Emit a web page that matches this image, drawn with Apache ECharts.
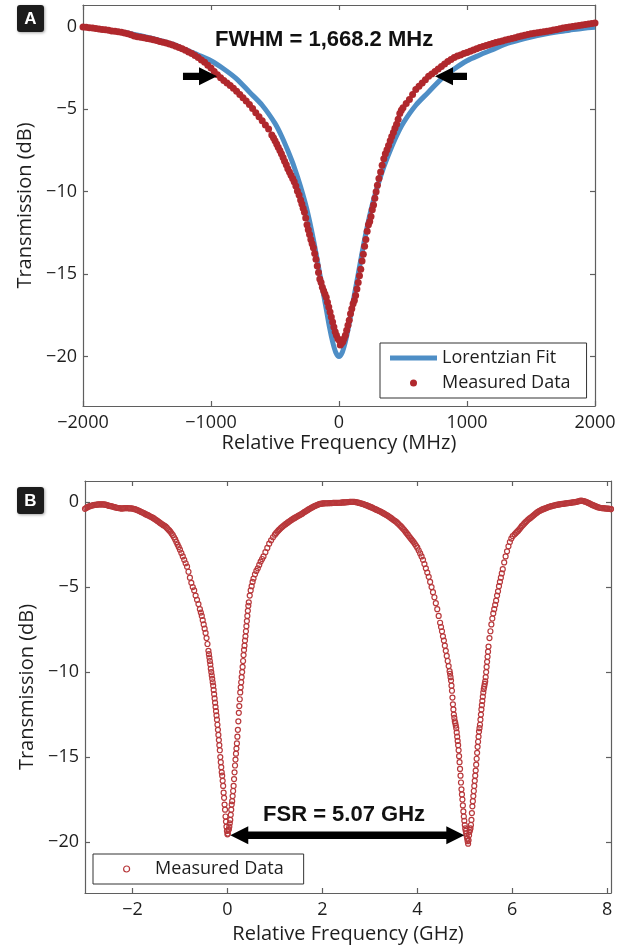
<!DOCTYPE html>
<html><head><meta charset="utf-8">
<script src="https://cdn.jsdelivr.net/npm/echarts@6/dist/echarts.min.js"></script>
<style>html,body{margin:0;padding:0;background:#fff}#c{width:623px;height:948px}</style>
</head><body><div id="c"></div>
<script>
// ---------- Panel A data ----------
const fitA = [[-2000,0],[-1900,-0.09],[-1800,-0.2],[-1700,-0.31],[-1600,-0.45],[-1500,-0.62],[-1400,-0.82],[-1300,-1.05],[-1200,-1.38],[-1100,-1.7],[-1000,-2.05],[-900,-2.55],[-800,-3.15],[-700,-3.95],[-600,-4.75],[-500,-5.85],[-450,-6.6],[-400,-7.5],[-350,-8.5],[-300,-9.7],[-250,-11.1],[-200,-12.9],[-150,-15.0],[-100,-17.1],[-75,-18.2],[-50,-19.1],[-25,-19.75],[0,-20.0],[25,-19.75],[50,-19.1],[75,-18.2],[100,-17.1],[150,-15.0],[200,-12.9],[250,-11.1],[300,-9.7],[350,-8.5],[400,-7.5],[450,-6.6],[500,-5.85],[600,-4.75],[700,-3.95],[800,-3.15],[900,-2.55],[1000,-2.05],[1100,-1.7],[1200,-1.38],[1300,-1.05],[1400,-0.82],[1500,-0.62],[1600,-0.45],[1700,-0.31],[1800,-0.2],[1900,-0.09],[2000,-0.02]];

const measA = [[-2000,0.00],[-1975,-0.02],[-1950,-0.05],[-1925,-0.07],[-1900,-0.10],[-1875,-0.12],[-1850,-0.15],[-1825,-0.17],[-1800,-0.20],[-1775,-0.24],[-1750,-0.27],[-1725,-0.30],[-1700,-0.33],[-1675,-0.37],[-1650,-0.42],[-1625,-0.48],[-1600,-0.55],[-1575,-0.59],[-1550,-0.63],[-1525,-0.66],[-1500,-0.70],[-1475,-0.74],[-1450,-0.78],[-1425,-0.83],[-1400,-0.88],[-1375,-0.93],[-1350,-0.98],[-1325,-1.04],[-1300,-1.10],[-1275,-1.17],[-1250,-1.25],[-1225,-1.33],[-1200,-1.42],[-1175,-1.52],[-1150,-1.62],[-1125,-1.73],[-1100,-1.85],[-1075,-2.00],[-1050,-2.15],[-1025,-2.32],[-1000,-2.50],[-975,-2.70],[-950,-2.90],[-925,-3.08],[-900,-3.25],[-875,-3.40],[-850,-3.55],[-825,-3.72],[-800,-3.90],[-775,-4.10],[-750,-4.30],[-725,-4.50],[-700,-4.70],[-675,-4.95],[-650,-5.20],[-625,-5.45],[-600,-5.70],[-575,-5.95],[-550,-6.20],[-525,-6.55],[-512,-6.72],[-500,-6.90],[-487,-7.10],[-475,-7.30],[-462,-7.50],[-450,-7.70],[-437,-7.92],[-425,-8.15],[-412,-8.37],[-400,-8.60],[-387,-8.80],[-375,-9.00],[-362,-9.20],[-350,-9.40],[-337,-9.65],[-325,-9.95],[-312,-10.20],[-300,-10.50],
[-290,-10.75],[-280,-11.0],[-270,-11.25],[-260,-11.6],[-250,-12.0],[-240,-12.3],[-230,-12.6],[-220,-12.9],[-210,-13.15],[-200,-13.4],[-190,-13.75],[-180,-14.1],[-170,-14.5],[-160,-14.9],[-150,-15.3],[-140,-15.5],[-130,-15.8],[-120,-16.0],[-110,-16.2],[-100,-16.4],[-90,-16.7],[-80,-17.0],[-70,-17.3],[-60,-17.6],[-50,-17.9],[-40,-18.2],[-30,-18.5],[-20,-18.7],[-10,-18.9],[0,-19.0],[10,-19.3],[20,-19.2],[30,-19.1],[40,-18.9],[50,-18.7],[60,-18.4],[70,-18.1],[80,-17.8],[90,-17.4],[100,-17.1],[110,-16.8],[120,-16.6],[130,-16.3],[140,-15.9],[150,-15.5],[160,-15.1],[170,-14.7],[180,-14.2],[190,-13.8],[200,-13.3],[210,-12.9],[220,-12.4],[230,-12.0],[240,-11.8],[250,-11.5],[260,-11.1],[270,-10.8],[280,-10.4],[290,-10.0],
[300,-9.6],[312,-9.2],[325,-8.8],[337,-8.4],[350,-8.0],[362,-7.7],[375,-7.45],[387,-7.2],[400,-6.9],[412,-6.65],[425,-6.4],[437,-6.15],[450,-5.9],[462,-5.6],[475,-5.25],[487,-5.05],[500,-4.9],[525,-4.65],[550,-4.4],[575,-4.1],[600,-3.8],[625,-3.6],[650,-3.4],[675,-3.2],[700,-3.0],[725,-2.85],[750,-2.7],[775,-2.55],[800,-2.4],[825,-2.25],[850,-2.1],[875,-1.97],[900,-1.85],[925,-1.77],[950,-1.7],[975,-1.62],[1000,-1.55],[1025,-1.48],[1050,-1.4],[1075,-1.33],[1100,-1.25],[1125,-1.19],[1150,-1.13],[1175,-1.06],[1200,-1.0],[1225,-0.95],[1250,-0.9],[1275,-0.85],[1300,-0.8],[1325,-0.75],[1350,-0.7],[1375,-0.65],[1400,-0.6],[1425,-0.55],[1450,-0.51],[1475,-0.46],[1500,-0.42],[1525,-0.39],[1550,-0.36],[1575,-0.33],[1600,-0.30],[1625,-0.27],[1650,-0.23],[1675,-0.19],[1700,-0.15],[1725,-0.11],[1750,-0.07],[1775,-0.03],[1800,0.0],[1825,0.03],[1850,0.06],[1875,0.09],[1900,0.12],[1925,0.15],[1950,0.18],[1975,0.21],[2000,0.24]];

// ---------- Panel B data ----------
const measB = [[-3.00,-0.40],[-2.95,-0.30],[-2.90,-0.24],[-2.85,-0.20],[-2.80,-0.17],[-2.75,-0.15],[-2.70,-0.14],[-2.65,-0.13],[-2.60,-0.14],[-2.55,-0.17],[-2.50,-0.21],[-2.45,-0.24],[-2.40,-0.28],[-2.35,-0.32],[-2.30,-0.35],[-2.25,-0.37],[-2.20,-0.37],[-2.15,-0.36],[-2.10,-0.36],[-2.05,-0.37],[-2.00,-0.38],[-1.95,-0.42],[-1.90,-0.47],[-1.85,-0.53],[-1.80,-0.60],[-1.75,-0.67],[-1.70,-0.74],[-1.65,-0.81],[-1.60,-0.88],[-1.55,-0.96],[-1.50,-1.06],[-1.45,-1.16],[-1.40,-1.26],[-1.35,-1.36],[-1.30,-1.45],[-1.25,-1.60],[-1.20,-1.75],[-1.15,-1.95],[-1.10,-2.20],[-1.05,-2.50],
[-1.00,-2.80],[-0.97,-3.00],[-0.94,-3.20],[-0.91,-3.40],[-0.88,-3.60],[-0.85,-3.80],[-0.82,-4.10],[-0.79,-4.45],[-0.76,-4.75],[-0.73,-5.00],[-0.70,-5.20],[-0.67,-5.50],[-0.64,-5.75],[-0.61,-6.00],[-0.58,-6.30],[-0.56,-6.50],[-0.54,-6.70],[-0.52,-6.95],[-0.50,-7.20],[-0.48,-7.45],[-0.46,-7.70],[-0.44,-8.00],[-0.42,-8.35],[-0.40,-8.75],[-0.39,-8.95],[-0.38,-9.15],[-0.37,-9.35],[-0.36,-9.55],[-0.35,-9.80],[-0.34,-10.00],
[-0.33,-10.2],[-0.32,-10.4],[-0.31,-10.6],[-0.30,-10.8],[-0.29,-11.05],[-0.28,-11.3],[-0.27,-11.55],[-0.26,-11.8],[-0.25,-12.05],[-0.24,-12.3],[-0.23,-12.55],[-0.22,-12.8],[-0.21,-13.1],[-0.20,-13.4],[-0.19,-13.7],[-0.18,-14.0],[-0.17,-14.3],[-0.16,-14.6],[-0.15,-15.0],[-0.14,-15.3],[-0.13,-15.6],[-0.12,-15.9],[-0.11,-16.1],[-0.10,-16.4],[-0.09,-16.7],[-0.08,-17.1],[-0.07,-17.4],[-0.06,-17.8],[-0.05,-18.1],[-0.04,-18.5],[-0.03,-18.8],[-0.02,-19.1],[-0.01,-19.35],[0.00,-19.55],
[0.01,-19.5],[0.02,-19.3],[0.03,-19.25],[0.04,-19.1],[0.05,-18.9],[0.06,-18.7],[0.07,-18.4],[0.08,-18.1],[0.09,-17.8],[0.10,-17.6],[0.11,-17.3],[0.12,-17.0],[0.13,-16.7],[0.14,-16.3],[0.15,-15.9],[0.16,-15.5],[0.17,-15.15],[0.18,-14.8],[0.19,-14.5],[0.20,-14.2],[0.21,-13.8],[0.22,-13.4],[0.23,-12.9],[0.24,-12.4],[0.25,-12.0],[0.26,-11.6],[0.27,-11.2],[0.28,-10.9],[0.29,-10.6],[0.30,-10.3],[0.31,-10.0],[0.32,-9.7],[0.33,-9.35],[0.34,-9.0],[0.35,-8.7],[0.36,-8.45],[0.37,-8.15],[0.38,-7.9],[0.39,-7.6],[0.40,-7.3],[0.41,-7.0],[0.42,-6.7],[0.43,-6.4],[0.44,-6.1],[0.45,-5.9],[0.47,-5.5],[0.49,-5.2],[0.51,-4.95],[0.53,-4.7],[0.55,-4.5],[0.58,-4.25],[0.61,-4.05],[0.64,-3.9],[0.67,-3.7],[0.70,-3.5],[0.73,-3.35],[0.76,-3.2],[0.80,-2.95],[0.84,-2.7],[0.88,-2.45],[0.92,-2.25],[0.96,-2.07],[1.00,-1.92],[1.05,-1.75],[1.10,-1.6],[1.15,-1.47],[1.20,-1.35],[1.25,-1.25],[1.30,-1.15],[1.35,-1.05],[1.40,-0.96],[1.45,-0.88],[1.50,-0.8],[1.55,-0.72],[1.60,-0.63],[1.65,-0.54],[1.70,-0.45],[1.75,-0.37],[1.80,-0.29],[1.85,-0.22],[1.90,-0.16],[1.95,-0.11],[2.00,-0.08],
[2.05,-0.07],[2.10,-0.07],[2.15,-0.06],[2.20,-0.06],[2.25,-0.05],[2.30,-0.05],[2.35,-0.04],[2.40,-0.03],[2.45,-0.02],[2.50,-0.01],[2.55,0.0],[2.60,0.02],[2.65,0.02],[2.70,0.0],[2.75,-0.03],[2.80,-0.07],[2.85,-0.11],[2.90,-0.16],[2.95,-0.21],[3.00,-0.27],[3.05,-0.33],[3.10,-0.40],[3.15,-0.46],[3.20,-0.53],[3.25,-0.60],[3.30,-0.68],[3.35,-0.76],[3.40,-0.85],[3.45,-0.95],[3.50,-1.06],[3.55,-1.15],[3.60,-1.28],[3.65,-1.42],[3.70,-1.57],[3.75,-1.74],[3.80,-1.92],[3.85,-2.1],[3.90,-2.28],[3.95,-2.47],
[4.00,-2.68],[4.03,-2.85],[4.06,-3.02],[4.09,-3.2],[4.12,-3.4],[4.15,-3.65],[4.18,-3.9],[4.21,-4.15],[4.24,-4.4],[4.27,-4.7],[4.30,-5.0],[4.33,-5.3],[4.36,-5.6],[4.39,-5.95],[4.42,-6.3],[4.45,-6.7],[4.48,-7.1],[4.50,-7.35],[4.52,-7.6],[4.54,-7.9],[4.56,-8.15],[4.58,-8.45],[4.60,-8.75],[4.62,-9.05],[4.64,-9.35],[4.66,-9.65],[4.68,-9.95],[4.69,-10.1],[4.70,-10.3],[4.71,-10.5],[4.72,-10.8],[4.73,-11.1],[4.74,-11.5],[4.75,-11.9],[4.76,-12.2],[4.77,-12.5],[4.78,-12.7],[4.79,-12.9],[4.80,-13.0],[4.81,-13.15],[4.82,-13.3],[4.83,-13.55],[4.84,-13.8],[4.85,-14.05],[4.86,-14.3],[4.87,-14.6],[4.88,-14.95],[4.89,-15.3],[4.90,-15.7],[4.91,-16.1],[4.92,-16.5],[4.93,-16.9],[4.94,-17.2],[4.95,-17.5],[4.96,-17.85],[4.97,-18.2],[4.98,-18.5],[4.99,-18.75],[5.00,-19.0],[5.01,-19.2],[5.02,-19.35],[5.03,-19.5],[5.04,-19.65],[5.05,-19.8],[5.06,-19.95],[5.07,-20.1],
[5.08,-19.9],[5.09,-19.6],[5.10,-19.4],[5.11,-19.3],[5.12,-19.2],[5.13,-19.0],[5.14,-18.7],[5.15,-18.3],[5.16,-17.9],[5.17,-17.6],[5.18,-17.3],[5.19,-17.0],[5.20,-16.7],[5.21,-16.4],[5.22,-16.1],[5.23,-15.8],[5.24,-15.45],[5.25,-15.1],[5.26,-14.75],[5.27,-14.4],[5.28,-14.1],[5.29,-13.8],[5.30,-13.5],[5.31,-13.3],[5.32,-13.1],[5.33,-12.8],[5.34,-12.5],[5.35,-12.2],[5.36,-11.95],[5.37,-11.7],[5.38,-11.45],[5.39,-11.2],[5.40,-11.0],[5.41,-10.85],[5.42,-10.7],[5.43,-10.55],[5.44,-10.3],[5.45,-10.0],[5.46,-9.7],[5.47,-9.4],[5.48,-9.1],[5.49,-8.8],[5.50,-8.5],[5.52,-8.0],[5.54,-7.6],[5.56,-7.2],[5.58,-6.85],[5.60,-6.55],[5.62,-6.3],[5.64,-6.05],[5.66,-5.8],[5.68,-5.5],[5.70,-5.25],[5.72,-4.95],[5.74,-4.7],[5.76,-4.45],[5.78,-4.2],[5.80,-3.95],[5.83,-3.55],[5.86,-3.2],[5.89,-2.9],[5.92,-2.6],[5.95,-2.35],[5.98,-2.15],[6.01,-2.0],[6.05,-1.9],[6.10,-1.75],[6.15,-1.6],[6.20,-1.42],[6.25,-1.27],[6.30,-1.13],[6.35,-1.0],[6.40,-0.9],[6.45,-0.78],[6.50,-0.66],[6.55,-0.56],[6.60,-0.48],[6.65,-0.42],[6.70,-0.37],[6.75,-0.31],[6.80,-0.26],[6.85,-0.22],[6.90,-0.19],[6.95,-0.16],[7.00,-0.13],[7.05,-0.11],[7.10,-0.09],[7.15,-0.07],[7.20,-0.05],[7.25,-0.03],[7.30,-0.01],[7.35,0.02],[7.40,0.05],[7.45,0.08],[7.50,0.06],[7.55,0.02],[7.60,-0.05],[7.65,-0.12],[7.70,-0.18],[7.75,-0.24],[7.80,-0.30],[7.85,-0.34],[7.90,-0.36],[7.95,-0.37],[8.00,-0.38],[8.05,-0.40],[8.08,-0.41]];

// extra samples read along the dense, near-flat stretches of panel B
const measBTops = [[-2.975,-0.35],[-2.925,-0.27],[-2.875,-0.22],[-2.825,-0.18],[-2.775,-0.16],[-2.725,-0.14],[-2.675,-0.13],[-2.625,-0.14],[-2.575,-0.15],[-2.525,-0.19],[-2.475,-0.23],[-2.425,-0.26],[-2.375,-0.30],[-2.325,-0.34],[-2.275,-0.36],[-2.225,-0.38],[-2.175,-0.36],[-2.125,-0.35],[-2.075,-0.37],[-2.025,-0.37],[-1.975,-0.40],[-1.925,-0.44],[-1.875,-0.50],[-1.825,-0.57],[-1.775,-0.63],[-1.725,-0.71],[-1.675,-0.77],[-1.625,-0.85],[-1.575,-0.92],[-1.525,-1.01],[-1.475,-1.11],[-1.425,-1.21],[-1.375,-1.31],[-1.325,-1.40],[-1.275,-1.52],[-1.225,-1.67],[-1.175,-1.85],[-1.125,-2.07],[-1.075,-2.35],[-1.025,-2.65],
[1.025,-1.83],[1.075,-1.67],[1.125,-1.53],[1.175,-1.41],[1.225,-1.30],[1.275,-1.20],[1.325,-1.10],[1.375,-1.00],[1.425,-0.92],[1.475,-0.84],[1.525,-0.76],[1.575,-0.68],[1.625,-0.58],[1.675,-0.50],[1.725,-0.41],[1.775,-0.33],[1.825,-0.25],[1.875,-0.19],[1.925,-0.13],[1.975,-0.10],[2.025,-0.08],[2.075,-0.07],[2.125,-0.07],[2.175,-0.06],[2.225,-0.05],[2.275,-0.05],[2.325,-0.04],[2.375,-0.04],[2.425,-0.02],[2.475,-0.02],[2.525,0.0],[2.575,0.01],[2.625,0.02],[2.675,0.01],[2.725,-0.01],[2.775,-0.05],[2.825,-0.09],[2.875,-0.13],[2.925,-0.18],[2.975,-0.24],[3.025,-0.30],[3.075,-0.37],[3.125,-0.43],[3.175,-0.50],[3.225,-0.56],[3.275,-0.64],[3.325,-0.72],[3.375,-0.80],[3.425,-0.90],[3.475,-1.00],[3.525,-1.10],[3.575,-1.21],[3.625,-1.35],[3.675,-1.49],[3.725,-1.65],[3.775,-1.83],[3.825,-2.01],[3.875,-2.19],[3.925,-2.37],[3.975,-2.57],
[6.075,-1.82],[6.125,-1.68],[6.175,-1.51],[6.225,-1.35],[6.275,-1.20],[6.325,-1.06],[6.375,-0.95],[6.425,-0.84],[6.475,-0.72],[6.525,-0.61],[6.575,-0.52],[6.625,-0.45],[6.675,-0.39],[6.725,-0.34],[6.775,-0.28],[6.825,-0.24],[6.875,-0.20],[6.925,-0.17],[6.975,-0.14],[7.025,-0.12],[7.075,-0.10],[7.125,-0.08],[7.175,-0.06],[7.225,-0.04],[7.275,-0.02],[7.325,0.0],[7.375,0.03],[7.425,0.07],[7.475,0.07],[7.525,0.04],[7.575,-0.01],[7.625,-0.08],[7.675,-0.15],[7.725,-0.21],[7.775,-0.27],[7.825,-0.32],[7.875,-0.35],[7.925,-0.36],[7.975,-0.38],[8.025,-0.39],[8.075,-0.41]];

// ---------- ticks & annotations ----------
const ticksAx = [-2000,-1000,0,1000,2000];
const ticksAy = [-20,-15,-10,-5,0];
const ticksBx = [-2,0,2,4,6,8];
const ticksBy = [-20,-15,-10,-5,0];
const arrowsA = [[-1219,-3,-953,-3],[1000,-3,750,-3]]; // tail x,y -> tip x,y
const arrowsB = [[0.06,-19.6,4.99,-19.6]];             // double-headed
const labelA = ['FWHM = 1,668.2 MHz', -969, -0.8];
const labelB = ['FSR = 5.07 GHz', 0.75, -18.4];

const FONT = "'Open Sans', sans-serif";
const AX = '#5f5f5f';
const TXT = '#1e1e1e';
const fmt = v => String(v).replace('-', '\u2212');

function xAx(gi, min, max, ticks, pos, name, gap) {
  return {type:'value', gridIndex:gi, min, max, position:pos,
    axisLine:{show:true, onZero:false, lineStyle:{color:AX, width:1.2}},
    axisTick:{show:true, inside:true, length:5, customValues:ticks, lineStyle:{color:AX, width:1.2}},
    axisLabel:{show:pos==='bottom', customValues:ticks, formatter:fmt, margin:8, fontSize:18, fontFamily:FONT, color:TXT},
    splitLine:{show:false},
    name: name || '', nameLocation:'middle', nameGap:gap || 0,
    nameTextStyle:{fontSize:20, fontFamily:FONT, color:TXT}};
}
function yAx(gi, min, max, ticks, pos, name) {
  return {type:'value', gridIndex:gi, min, max, position:pos,
    axisLine:{show:true, onZero:false, lineStyle:{color:AX, width:1.2}},
    axisTick:{show:true, inside:true, length:5, customValues:ticks, lineStyle:{color:AX, width:1.2}},
    axisLabel:{show:pos==='left', customValues:ticks, formatter:fmt, margin:6, fontSize:18, fontFamily:FONT, color:TXT},
    splitLine:{show:false},
    name: name || '', nameLocation:'middle', nameGap:45, nameRotate:90,
    nameTextStyle:{fontSize:20, fontFamily:FONT, color:TXT}};
}

const RED = '#B0282D';
const BLUE = '#4E8EC6';
const REDB = '#B8383B';

const chart = echarts.init(document.getElementById('c'), null, {renderer:'canvas'});
const option = {
  animation:false,
  backgroundColor:'#fff',
  grid:[
    {left:83, top:5, width:512, height:401},
    {left:85, top:481, width:526, height:412}
  ],
  xAxis:[
    xAx(0,-2000,2000,ticksAx,'bottom','Relative Frequency (MHz)',27),
    xAx(0,-2000,2000,ticksAx,'top'),
    xAx(1,-3,8.08,ticksBx,'bottom','Relative Frequency (GHz)',31),
    xAx(1,-3,8.08,ticksBx,'top')
  ],
  yAxis:[
    yAx(0,-23,1.33,ticksAy,'left','Transmission (dB)'),
    yAx(0,-23,1.33,ticksAy,'right'),
    yAx(1,-23,1.24,ticksBy,'left','Transmission (dB)'),
    yAx(1,-23,1.24,ticksBy,'right')
  ],
  legend:[
    {left:380, top:343, orient:'vertical',
     data:[
       {name:'Lorentzian Fit', icon:'path://M0 0H47V5H0Z', itemStyle:{color:BLUE, borderWidth:0}},
       {name:'Measured Data', icon:'circle', itemStyle:{color:RED, borderWidth:0}}
     ],
     itemWidth:47, itemHeight:7, itemGap:5, padding:[5,16,5,10],
     borderColor:'#333', borderWidth:1, backgroundColor:'#fff',
     textStyle:{fontSize:18, fontFamily:FONT, color:TXT, lineHeight:20}},
    {left:93, top:854, orient:'vertical',
     data:[{name:'Measured Data ', icon:'circle', itemStyle:{color:'rgba(0,0,0,0)', borderColor:REDB, borderWidth:1.2}}],
     formatter:n=>n.trim(),
     itemWidth:47, itemHeight:6, itemGap:5, padding:[5,20,5,30],
     borderColor:'#333', borderWidth:1, backgroundColor:'#fff',
     textStyle:{fontSize:18, fontFamily:FONT, color:TXT, lineHeight:20}}
  ],
  series:[
    {name:'Lorentzian Fit', type:'line', xAxisIndex:0, yAxisIndex:0, data:fitA,
     symbol:'none', smooth:0.3, lineStyle:{color:BLUE, width:5}, itemStyle:{color:BLUE}, z:2},
    {name:'Measured Data', type:'scatter', xAxisIndex:0, yAxisIndex:0, data:measA,
     symbol:'circle', symbolSize:7, itemStyle:{color:RED, opacity:1}, z:3},
    {name:'Measured Data ', type:'scatter', xAxisIndex:2, yAxisIndex:2, data:measB.concat(measBTops),
     symbol:'circle', symbolSize:5,
     itemStyle:{color:'rgba(0,0,0,0)', borderColor:REDB, borderWidth:1.2, opacity:1}, z:3}
  ]
};
chart.setOption(option);

function arrowShape(p0, p1, dbl) {
  const y = p1[1], x0 = p0[0], x1 = p1[0];
  const d = Math.sign(x1 - x0), L = 18, H = 9, T = 3.7;
  const pts = [];
  if (dbl) {
    pts.push([x0, y], [x0 + d*L, y - H], [x0 + d*L, y - T]);
  } else {
    pts.push([x0, y - T]);
  }
  pts.push([x1 - d*L, y - T], [x1 - d*L, y - H], [x1, y], [x1 - d*L, y + H], [x1 - d*L, y + T]);
  if (dbl) {
    pts.push([x0 + d*L, y + T], [x0 + d*L, y + H]);
  } else {
    pts.push([x0, y + T]);
  }
  return {type:'polygon', shape:{points:pts}, style:{fill:'#000'}, z:20};
}

const g = [];
arrowsA.forEach(a => {
  const p0 = chart.convertToPixel({seriesIndex:1}, [a[0], a[1]]);
  const p1 = chart.convertToPixel({seriesIndex:1}, [a[2], a[3]]);
  g.push(arrowShape(p0, p1, false));
});
arrowsB.forEach(a => {
  const p0 = chart.convertToPixel({seriesIndex:2}, [a[0], a[1]]);
  const p1 = chart.convertToPixel({seriesIndex:2}, [a[2], a[3]]);
  g.push(arrowShape(p0, p1, true));
});
const pa = chart.convertToPixel({seriesIndex:1}, [labelA[1], labelA[2]]);
const pb = chart.convertToPixel({seriesIndex:2}, [labelB[1], labelB[2]]);
const boldFont = 'bold 22px "Liberation Sans", Arial, sans-serif';
g.push({type:'text', x:pa[0], y:pa[1], z:20, style:{text:labelA[0], font:boldFont, fill:'#111', align:'left', verticalAlign:'middle'}});
g.push({type:'text', x:pb[0], y:pb[1], z:20, style:{text:labelB[0], font:boldFont, fill:'#111', align:'left', verticalAlign:'middle'}});
// panel letters
[['A',17,5],['B',17,487]].forEach(([t,x,y]) => {
  g.push({type:'rect', x, y, z:20, shape:{width:27, height:27, r:3},
    style:{fill:'#1c1c1c', shadowBlur:3, shadowColor:'rgba(0,0,0,0.35)', shadowOffsetX:1, shadowOffsetY:1}});
  g.push({type:'text', x:x+13.5, y:y+14, z:21, style:{text:t, font:'bold 17px "Liberation Sans", Arial, sans-serif', fill:'#fff', align:'center', verticalAlign:'middle'}});
});
chart.setOption({graphic:g});
</script>
</body></html>
